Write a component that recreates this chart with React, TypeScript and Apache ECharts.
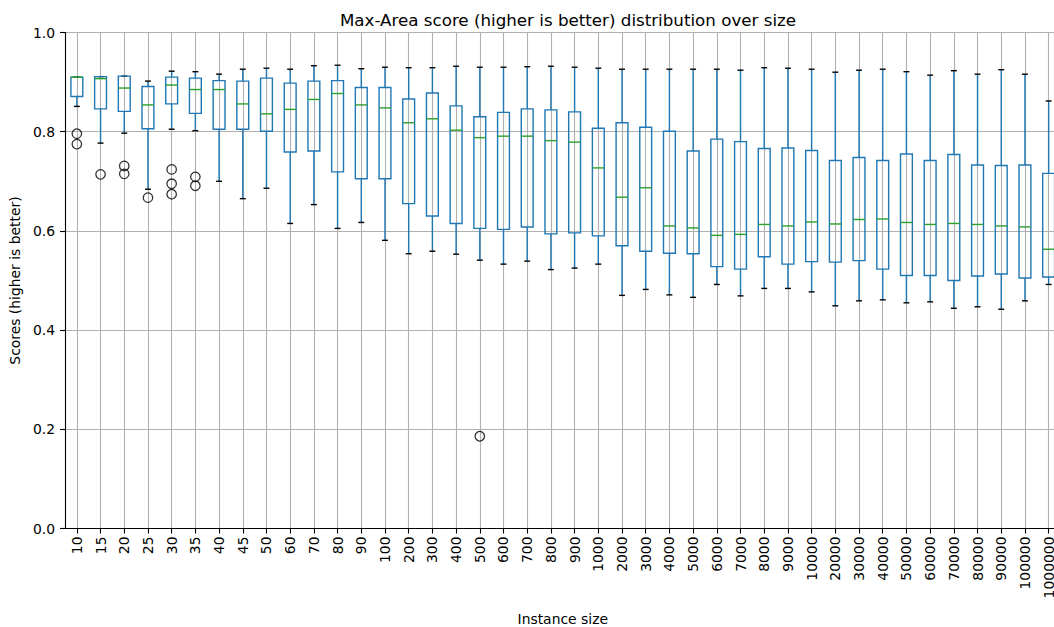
import React, { useEffect, useRef } from "react";
import * as echarts from "echarts";

const categories = [
  "10", "15", "20", "25", "30", "35", "40", "45", "50", "60", "70", "80", "90", "100",
  "200", "300", "400", "500", "600", "700", "800", "900", "1000",
  "2000", "3000", "4000", "5000", "6000", "7000", "8000", "9000", "10000",
  "20000", "30000", "40000", "50000", "60000", "70000", "80000", "90000", "100000", "1000000",
];

const whiskerHigh = [
  0.910, 0.911, 0.912, 0.902, 0.922, 0.921, 0.916, 0.926, 0.928, 0.926, 0.933, 0.934, 0.927, 0.930,
  0.929, 0.929, 0.932, 0.930, 0.930, 0.931, 0.932, 0.930, 0.928,
  0.926, 0.926, 0.926, 0.926, 0.926, 0.924, 0.929, 0.928, 0.926,
  0.920, 0.924, 0.926, 0.921, 0.914, 0.923, 0.916, 0.925, 0.916, 0.862,
];

const q3 = [
  0.910, 0.911, 0.912, 0.891, 0.910, 0.908, 0.903, 0.902, 0.908, 0.898, 0.902, 0.903, 0.889, 0.889,
  0.866, 0.878, 0.852, 0.830, 0.839, 0.846, 0.844, 0.840, 0.807,
  0.818, 0.809, 0.801, 0.761, 0.785, 0.780, 0.766, 0.767, 0.762,
  0.742, 0.748, 0.742, 0.755, 0.742, 0.754, 0.733, 0.732, 0.733, 0.716,
];

const median = [
  0.910, 0.907, 0.888, 0.854, 0.894, 0.885, 0.885, 0.856, 0.836, 0.845, 0.865, 0.877, 0.854, 0.848,
  0.818, 0.826, 0.803, 0.788, 0.791, 0.791, 0.782, 0.779, 0.727,
  0.668, 0.687, 0.610, 0.606, 0.591, 0.593, 0.613, 0.610, 0.618,
  0.614, 0.623, 0.624, 0.617, 0.613, 0.615, 0.613, 0.610, 0.608, 0.563,
];

const q1 = [
  0.871, 0.846, 0.841, 0.806, 0.856, 0.837, 0.805, 0.805, 0.801, 0.759, 0.761, 0.719, 0.705, 0.705,
  0.655, 0.630, 0.615, 0.605, 0.603, 0.608, 0.594, 0.596, 0.590,
  0.570, 0.559, 0.555, 0.554, 0.528, 0.523, 0.548, 0.533, 0.538,
  0.537, 0.540, 0.523, 0.510, 0.510, 0.500, 0.509, 0.513, 0.505, 0.507,
];

const whiskerLow = [
  0.851, 0.777, 0.797, 0.684, 0.805, 0.802, 0.700, 0.665, 0.686, 0.615, 0.653, 0.605, 0.617, 0.581,
  0.554, 0.559, 0.553, 0.541, 0.533, 0.539, 0.522, 0.525, 0.533,
  0.470, 0.482, 0.471, 0.466, 0.492, 0.469, 0.484, 0.484, 0.477,
  0.449, 0.459, 0.461, 0.455, 0.457, 0.444, 0.447, 0.442, 0.459, 0.492,
];

const outlierCategories = ["10", "10", "15", "20", "20", "25", "30", "30", "30", "35", "35", "500"];
const outlierValues = [0.796, 0.775, 0.714, 0.731, 0.715, 0.667, 0.724, 0.695, 0.674, 0.709, 0.691, 0.186];

const yTicks = [0.0, 0.2, 0.4, 0.6, 0.8, 1.0];

const FONT = "DejaVu Sans";
const BLUE = "#1f77b4";
const GREEN = "#2ca02c";
const GRID = "#b0b0b0";

export default function App() {
  const ref = useRef<HTMLDivElement>(null);

  useEffect(() => {
    if (!ref.current) return;
    const chart = echarts.init(ref.current, undefined, { renderer: "svg" });

    const boxData = categories.map((c, i) => [i, whiskerLow[i], q1[i], median[i], q3[i], whiskerHigh[i]]);
    const outlierData = outlierCategories.map((c, i) => [c, outlierValues[i]]);

    const lw = 1.4;

    chart.setOption({
      animation: false,
      backgroundColor: "#ffffff",
      title: {
        text: "Max-Area score (higher is better) distribution over size",
        left: 563,
        top: 6,
        textAlign: "center",
        textStyle: { fontFamily: FONT, fontSize: 16.7, fontWeight: "normal", color: "#000" },
      },
      grid: {
        left: 65,
        right: -6.5,
        top: 32.5,
        bottom: 98.5,
        containLabel: false,
        outerBoundsMode: "none",
      },
      xAxis: {
        type: "category",
        data: categories,
        boundaryGap: true,
        name: "Instance size",
        nameLocation: "middle",
        nameGap: 83,
        nameTextStyle: { fontFamily: FONT, fontSize: 13.9, color: "#000" },
        axisLine: { show: true, lineStyle: { color: "#000", width: 1.1 } },
        axisTick: { show: true, alignWithLabel: true, inside: false, length: 5, lineStyle: { color: "#000", width: 1.1 } },
        axisLabel: { rotate: 90, interval: 0, margin: 8, fontFamily: FONT, fontSize: 13.9, color: "#000" },
        splitLine: { show: true, alignWithLabel: true, lineStyle: { color: GRID, width: 1.1 } },
      },
      yAxis: {
        type: "value",
        min: 0,
        max: 1,
        interval: 0.2,
        name: "Scores (higher is better)",
        nameLocation: "middle",
        nameGap: 41,
        nameTextStyle: { fontFamily: FONT, fontSize: 13.9, color: "#000" },
        axisLine: { show: true, lineStyle: { color: "#000", width: 1.1 } },
        axisTick: { show: true, inside: false, length: 5, lineStyle: { color: "#000", width: 1.1 } },
        axisLabel: {
          margin: 10,
          fontFamily: FONT,
          fontSize: 13.9,
          color: "#000",
          formatter: (v: number) => {
            const t = yTicks.find((x) => Math.abs(x - v) < 1e-9);
            return (t !== undefined ? t : v).toFixed(1);
          },
        },
        splitLine: { show: true, lineStyle: { color: GRID, width: 1.1 } },
      },
      series: [
        {
          type: "custom",
          data: boxData,
          encode: { x: 0, y: [1, 2, 3, 4, 5] },
          z: 3,
          renderItem: (params: any, api: any) => {
            const idx = api.value(0);
            const pLow = api.coord([idx, api.value(1)]);
            const pQ1 = api.coord([idx, api.value(2)]);
            const pMed = api.coord([idx, api.value(3)]);
            const pQ3 = api.coord([idx, api.value(4)]);
            const pHigh = api.coord([idx, api.value(5)]);
            const band = api.size([1, 0])[0];
            const bw = band * 0.5;
            const cw = bw * 0.5;
            const cx = pMed[0];
            return {
              type: "group",
              children: [
                {
                  type: "line",
                  shape: { x1: cx, y1: pQ1[1], x2: cx, y2: pLow[1] },
                  style: { stroke: BLUE, lineWidth: lw },
                },
                {
                  type: "line",
                  shape: { x1: cx, y1: pQ3[1], x2: cx, y2: pHigh[1] },
                  style: { stroke: BLUE, lineWidth: lw },
                },
                {
                  type: "line",
                  shape: { x1: cx - cw / 2, y1: pLow[1], x2: cx + cw / 2, y2: pLow[1] },
                  style: { stroke: "#000", lineWidth: lw },
                },
                {
                  type: "line",
                  shape: { x1: cx - cw / 2, y1: pHigh[1], x2: cx + cw / 2, y2: pHigh[1] },
                  style: { stroke: "#000", lineWidth: lw },
                },
                {
                  type: "rect",
                  shape: { x: cx - bw / 2, y: pQ3[1], width: bw, height: pQ1[1] - pQ3[1] },
                  style: { fill: "none", stroke: BLUE, lineWidth: lw },
                },
                {
                  type: "line",
                  shape: { x1: cx - bw / 2, y1: pMed[1], x2: cx + bw / 2, y2: pMed[1] },
                  style: { stroke: GREEN, lineWidth: lw },
                },
              ],
            };
          },
        },
        {
          type: "scatter",
          data: outlierData,
          symbol: "circle",
          symbolSize: 9.5,
          z: 4,
          itemStyle: { color: "rgba(0,0,0,0)", borderColor: "#000", borderWidth: 1.3 },
          emphasis: { disabled: true },
        },
      ],
    });

    return () => chart.dispose();
  }, []);

  return (
    <div
      ref={ref}
      style={{ position: "fixed", left: 0, top: 0, width: 1054, height: 627, overflow: "hidden" }}
    />
  );
}
